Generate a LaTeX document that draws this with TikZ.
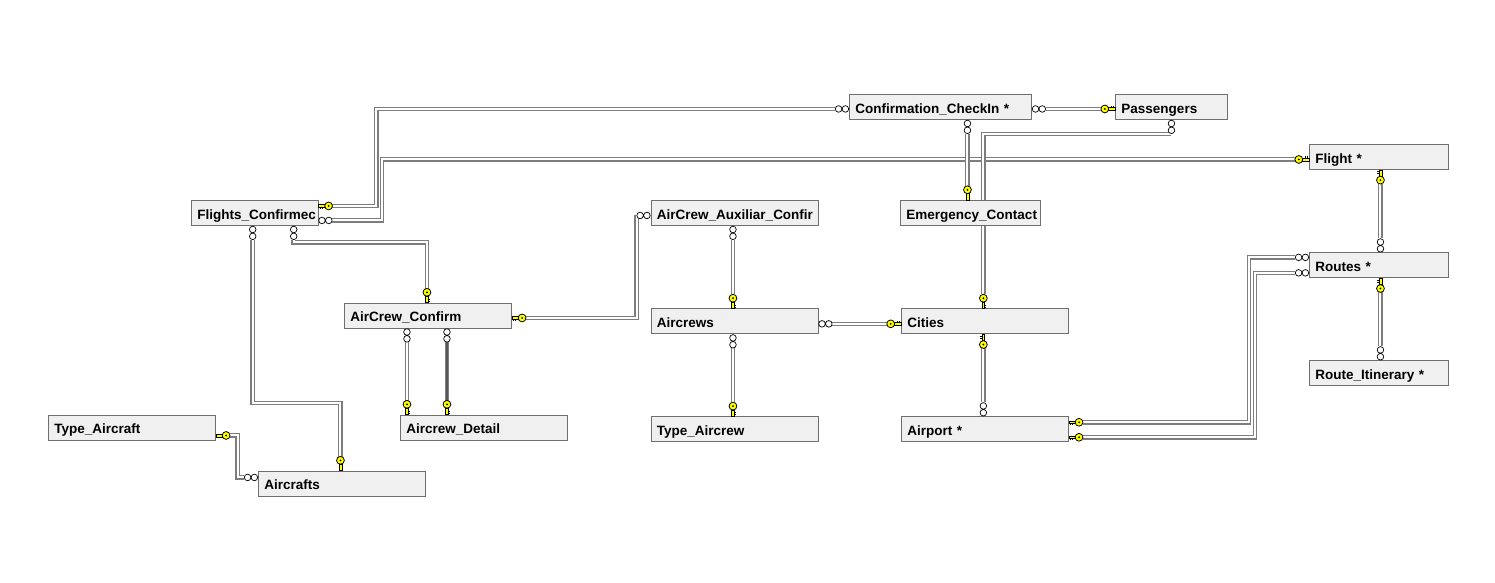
\documentclass[tikz,border=0pt]{standalone}
\usepackage{fontspec}
\setmainfont{Liberation Sans}
\usepackage{xcolor}
\usepackage{tikz}
\usetikzlibrary{positioning, calc, backgrounds}

\definecolor{tblfill}{RGB}{240,240,240}
\definecolor{tblline}{RGB}{110,110,110}
\definecolor{linkgray}{RGB}{125,125,125}
\definecolor{keyyellow}{RGB}{255,255,0}

\begin{document}
\begin{tikzpicture}[
                x=1pt, y=-1pt,
                tbl/.style={draw=tblline, fill=tblfill, line width=0.9pt, anchor=north west,
                    minimum height=25pt, inner xsep=6pt, inner ysep=0pt, text width=155pt,
                    align=left, text height=12.4pt, text depth=0pt,
                    font=\fontsize{13.5}{15}\selectfont\bfseries},
                link/.style={draw=linkgray, line width=1.3pt, double=white, double distance=2pt},
                linkdark/.style={link, double=linkgray!70!black},
                keyend/.pic={
                    \draw[line width=0.5pt, fill=keyyellow] (0,-1.3) rectangle (6.4,1.3);
                    \draw[line width=0.5pt] (1.6,1.3) -- (1.6,3) (3.6,1.3) -- (3.6,3);
                    \draw[line width=0.8pt, fill=keyyellow] (10.2,0) circle (3.9pt);
                    \fill (10.2,0) circle (1pt);
                },
                manyend/.pic={
                    \draw[line width=0.7pt, fill=white] (3.6,0) circle (3.3pt) (10.4,0) circle (3.3pt);
                }
            ]
            \useasboundingbox (0,0) rectangle (1495,582);

            \node[tbl, text width=170pt] (CCI) at (849,94) {Confirmation\_CheckIn *};
            \node[tbl, text width=100pt] (Pass) at (1115,94) {Passengers};
            \node[tbl, text width=127pt] (Flight) at (1309,144) {Flight *};
            \node[tbl, text width=127pt, below=82.5pt of Flight] (Routes) {Routes *};
            \node[tbl, text width=127pt, below=82pt of Routes] (RI) {Route\_Itinerary *};
            \node[tbl, text width=114.5pt] (FConf) at (191,200) {Flights\_Confirmec};
            \node[tbl] (Aux) at (650.5,200) {AirCrew\_Auxiliar\_Confir};
            \node[tbl, below=82.5pt of Aux] (Aircrews) {Aircrews};
            \node[tbl, below=82pt of Aircrews] (TAcrew) {Type\_Aircrew};
            \node[tbl, text width=128pt] (EC) at (900,200) {Emergency\_Contact};
            \node[tbl, right=82.5pt of Aircrews] (Cities) {Cities};
            \node[tbl, below=82pt of Cities] (Airport) {Airport *};
            \node[tbl] (ACC) at (344,302.5) {AirCrew\_Confirm};
            \node[tbl] (ACD) at (400,414.5) {Aircrew\_Detail};
            \node[tbl] (TAcraft) at (48,414.5) {Type\_Aircraft};
            \node[tbl] (Aircrafts) at (258,470.5) {Aircrafts};

            \begin{scope}[on background layer]
            \draw[link] ($(FConf.east)+(14,-7)$) -- ++(44,0) |- ($(CCI.west)+(-14,2)$);
            \draw[link] ($(FConf.east)+(14,7.5)$) -- ++(49.5,0) |- ($(Flight.west)+(-14,2.5)$);
            \draw[link] ($(CCI.east)+(14,2)$) -- ($(Pass.west)+(-14,2)$);
            \draw[link] ($(CCI.south)+(27,14)$) -- ($(EC.north)+(-3,-14)$);
            \draw[link] ($(Pass.south)+(0,14)$) -| ($(Cities.north)+(-1.5,-14)$);
            \draw[link] ($(FConf.south)+(-2,14)$) -- ++(0,163) -| ($(Aircrafts.north)+(-1.5,-14)$);
            \draw[link] ($(FConf.south)+(39,14)$) -- ++(0,2.5) -| ($(ACC.north)+(-1,-14)$);
            \draw[link] ($(Aux.west)+(-14,2.5)$) |- ($(ACC.east)+(14,2.5)$);
            \draw[link] ($(ACC.south)+(-21,14)$) -- ($(ACD.north)+(-77,-14)$);
            \draw[linkdark] ($(ACC.south)+(19,14)$) -- ($(ACD.north)+(-37,-14)$);
            \draw[link] ($(Aux.south)+(-1.5,14)$) -- ($(Aircrews.north)+(-1.5,-14)$);
            \draw[link] ($(Aircrews.south)+(-1.5,14)$) -- ($(TAcrew.north)+(-1.5,-14)$);
            \draw[link] ($(Aircrews.east)+(14,2.5)$) -- ($(Cities.west)+(-14,2.5)$);
            \draw[link] ($(Airport.north)+(-1.5,-14)$) -- ($(Cities.south)+(-1.5,14)$);
            \draw[link] ($(Airport.east)+(14,-7)$) -- ++(166,0) |- ($(Routes.west)+(-14,-8)$);
            \draw[link] ($(Airport.east)+(14,8)$) -- ++(172,0) |- ($(Routes.west)+(-14,7.5)$);
            \draw[link] ($(Routes.north)+(1.5,-14)$) -- ($(Flight.south)+(1.5,14)$);
            \draw[link] ($(RI.north)+(1.5,-14)$) -- ($(Routes.south)+(1.5,14)$);
            \draw[link] ($(Aircrafts.west)+(-14,-6)$) -- ++(-6.5,0) |- ($(TAcraft.east)+(14,8)$);
            \end{scope}

            \pic at ($(FConf.east)+(0,-7)$) {keyend};
            \pic[rotate=180] at ($(CCI.west)+(0,2)$) {manyend};
            \pic at ($(FConf.east)+(0,7.5)$) {manyend};
            \pic[rotate=180] at ($(Flight.west)+(0,2.5)$) {keyend};
            \pic at ($(CCI.east)+(0,2)$) {manyend};
            \pic[rotate=180] at ($(Pass.west)+(0,2)$) {keyend};
            \pic[rotate=-90] at ($(CCI.south)+(27,0)$) {manyend};
            \pic[rotate=90] at ($(EC.north)+(-3,0)$) {keyend};
            \pic[rotate=-90] at (Pass.south) {manyend};
            \pic[rotate=90] at ($(Cities.north)+(-1.5,0)$) {keyend};
            \pic[rotate=-90] at ($(FConf.south)+(-2,0)$) {manyend};
            \pic[rotate=90] at ($(Aircrafts.north)+(-1.5,0)$) {keyend};
            \pic[rotate=-90] at ($(FConf.south)+(39,0)$) {manyend};
            \pic[rotate=90] at ($(ACC.north)+(-1,0)$) {keyend};
            \pic[rotate=180] at ($(Aux.west)+(0,2.5)$) {manyend};
            \pic at ($(ACC.east)+(0,2.5)$) {keyend};
            \pic[rotate=-90] at ($(ACC.south)+(-21,0)$) {manyend};
            \pic[rotate=90] at ($(ACD.north)+(-77,0)$) {keyend};
            \pic[rotate=-90] at ($(ACC.south)+(19,0)$) {manyend};
            \pic[rotate=90] at ($(ACD.north)+(-37,0)$) {keyend};
            \pic[rotate=-90] at ($(Aux.south)+(-1.5,0)$) {manyend};
            \pic[rotate=90] at ($(Aircrews.north)+(-1.5,0)$) {keyend};
            \pic[rotate=-90] at ($(Aircrews.south)+(-1.5,0)$) {manyend};
            \pic[rotate=90] at ($(TAcrew.north)+(-1.5,0)$) {keyend};
            \pic at ($(Aircrews.east)+(0,2.5)$) {manyend};
            \pic[rotate=180] at ($(Cities.west)+(0,2.5)$) {keyend};
            \pic[rotate=90] at ($(Airport.north)+(-1.5,0)$) {manyend};
            \pic[rotate=-90] at ($(Cities.south)+(-1.5,0)$) {keyend};
            \pic at ($(Airport.east)+(0,-7)$) {keyend};
            \pic[rotate=180] at ($(Routes.west)+(0,-8)$) {manyend};
            \pic at ($(Airport.east)+(0,8)$) {keyend};
            \pic[rotate=180] at ($(Routes.west)+(0,7.5)$) {manyend};
            \pic[rotate=90] at ($(Routes.north)+(1.5,0)$) {manyend};
            \pic[rotate=-90] at ($(Flight.south)+(1.5,0)$) {keyend};
            \pic[rotate=90] at ($(RI.north)+(1.5,0)$) {manyend};
            \pic[rotate=-90] at ($(Routes.south)+(1.5,0)$) {keyend};
            \pic[rotate=180] at ($(Aircrafts.west)+(0,-6)$) {manyend};
            \pic at ($(TAcraft.east)+(0,8)$) {keyend};
        \end{tikzpicture}
\end{document}
